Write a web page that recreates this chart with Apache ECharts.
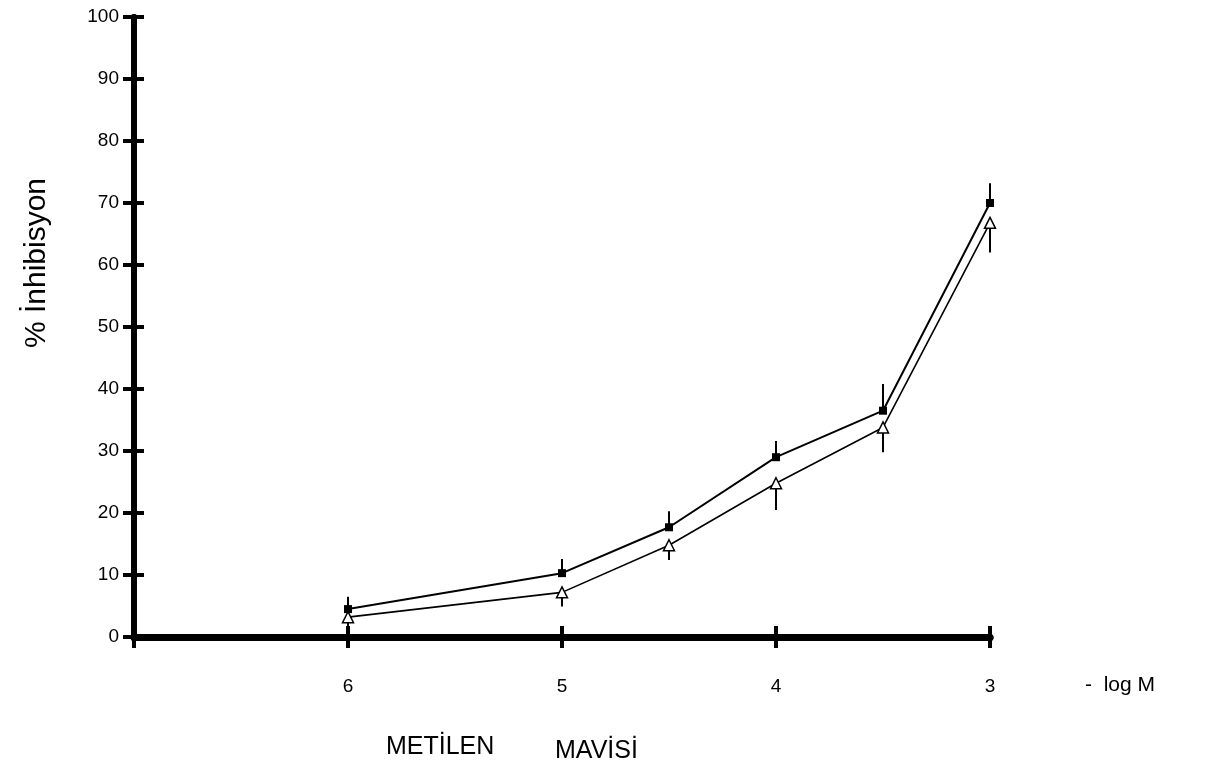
<!DOCTYPE html>
<html>
<head>
<meta charset="utf-8">
<script src="https://cdn.jsdelivr.net/npm/echarts@6/dist/echarts.min.js"></script>
<style>
  html, body { margin: 0; padding: 0; background: #fff; }
  #chart { width: 1219px; height: 781px; }
</style>
</head>
<body>
<div id="chart"></div>
<script>
// -log M positions of the measurements
var logM = [6, 5, 4.5, 4, 3.5, 3];
// filled squares, error drawn upward
var squareVals = [4.5, 10.3, 17.7, 29, 36.5, 70];
var squareErr = [2, 2.3, 2.6, 2.6, 4.3, 3.2];
// open triangles, error drawn downward
var triangleVals = [3.2, 7.2, 14.8, 24.8, 33.8, 66.8];
var triangleErr = [2, 2.3, 2.4, 4.3, 4, 4.8];
var xTicks = [6, 5, 4, 3];

var chart = echarts.init(document.getElementById('chart'));

function pairs(vals) {
  return logM.map(function (x, i) { return [x, vals[i]]; });
}

function errBars(vals, errs, dir) {
  return logM.map(function (x, i) { return [x, vals[i], vals[i] + dir * errs[i]]; });
}

function renderErr(params, api) {
  var p0 = api.coord([api.value(0), api.value(1)]);
  var p1 = api.coord([api.value(0), api.value(2)]);
  return {
    type: 'line',
    shape: { x1: p0[0], y1: p0[1], x2: p1[0], y2: p1[1] },
    style: { stroke: '#000', lineWidth: 2 }
  };
}

var FONT = 'Liberation Sans, Arial, sans-serif';
var axisFont = { color: '#000', fontSize: 19, fontFamily: FONT };

var xBase = {
  type: 'value', min: 3, max: 7, interval: 1, inverse: true,
  splitLine: { show: false },
  axisLine: { lineStyle: { color: '#000', width: 7 } }
};
var yBase = {
  type: 'value', min: 0, max: 100, interval: 10,
  splitLine: { show: false },
  axisLine: { lineStyle: { color: '#000', width: 6 } }
};

chart.setOption({
  animation: false,
  backgroundColor: '#fff',
  grid: { left: 134, right: 229, top: 17, bottom: 144 },
  xAxis: [
    Object.assign({}, xBase, {
      axisTick: { inside: false, length: 11, lineStyle: { color: '#000', width: 4 } },
      axisLabel: Object.assign({ margin: 40, formatter: function (v) {
        return xTicks.indexOf(v) >= 0 ? String(v) : '';
      } }, axisFont)
    }),
    Object.assign({}, xBase, {
      position: 'bottom',
      axisTick: { inside: true, length: 11, lineStyle: { color: '#000', width: 4 } },
      axisLabel: { show: false }
    })
  ],
  yAxis: [
    Object.assign({}, yBase, {
      axisTick: { inside: false, length: 11, lineStyle: { color: '#000', width: 4 } },
      axisLabel: Object.assign({ margin: 15 }, axisFont)
    }),
    Object.assign({}, yBase, {
      position: 'left',
      axisTick: { inside: true, length: 10, lineStyle: { color: '#000', width: 4 } },
      axisLabel: { show: false }
    })
  ],
  graphic: [
    {
      type: 'text', left: 1085, top: 675,
      style: { text: '-  log M', fill: '#000', fontSize: 21, fontFamily: FONT }
    },
    {
      type: 'text', left: 386, top: 735,
      style: { text: 'METİLEN', fill: '#000', fontSize: 25, fontFamily: FONT }
    },
    {
      type: 'text', left: 555, top: 739,
      style: { text: 'MAVİSİ', fill: '#000', fontSize: 25, fontFamily: FONT }
    },
    {
      type: 'text', x: 37, y: 263, rotation: Math.PI / 2,
      style: { text: '% İnhibisyon', fill: '#000', fontSize: 30, fontFamily: FONT,
        align: 'center', verticalAlign: 'middle' }
    }
  ],
  series: [
    {
      type: 'custom', renderItem: renderErr,
      data: errBars(squareVals, squareErr, 1), z: 3
    },
    {
      type: 'custom', renderItem: renderErr,
      data: errBars(triangleVals, triangleErr, -1), z: 3
    },
    {
      name: 'square', type: 'line', data: pairs(squareVals),
      symbol: 'rect', symbolSize: 8,
      lineStyle: { color: '#000', width: 2 },
      itemStyle: { color: '#000' }, z: 4
    },
    {
      name: 'triangle', type: 'line', data: pairs(triangleVals),
      symbol: 'triangle', symbolSize: 11, showAllSymbol: true,
      lineStyle: { color: '#000', width: 1.6 },
      itemStyle: { color: '#fff', borderColor: '#000', borderWidth: 1.5 }, z: 4
    }
  ]
});
</script>
</body>
</html>
